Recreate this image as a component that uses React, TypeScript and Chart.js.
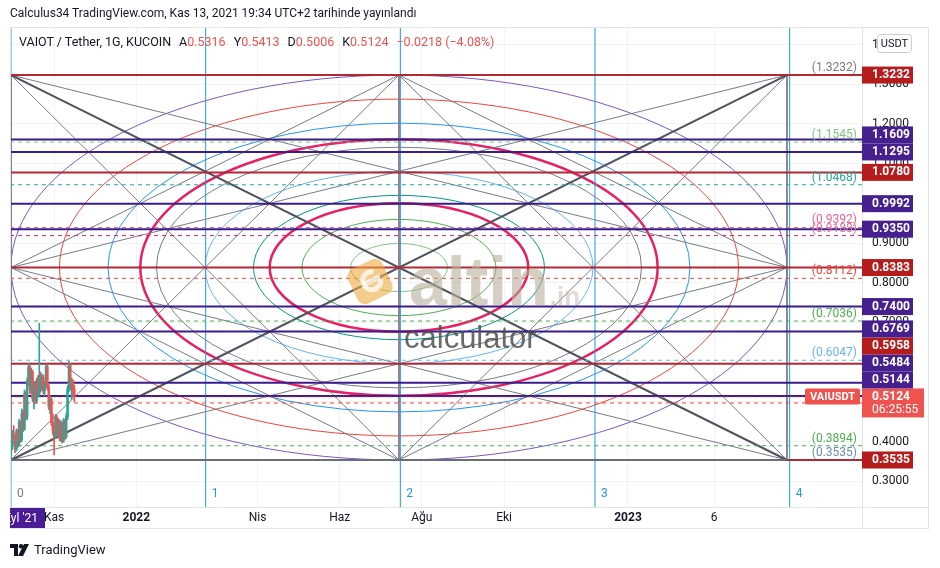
import React, { useEffect, useRef } from "react";
import { Chart, registerables } from "chart.js";

Chart.register(...registerables);

const FONT = "Roboto, 'Noto Sans', sans-serif";

// ---------------- DATA ----------------
const candleDays = [0, 1, 2, 3, 4, 5, 6, 7, 8, 9, 10, 11, 12, 13, 14, 15, 16, 17, 18, 19, 20, 21, 22, 23, 24, 25, 26, 27, 28, 29, 30, 31, 32, 33, 34, 35, 36, 37, 38, 39, 40, 41, 42, 43, 44, 45, 46, 47];
const opens = [0.372, 0.388, 0.420, 0.402, 0.380, 0.425, 0.392, 0.448, 0.405, 0.470, 0.432, 0.520, 0.462, 0.552, 0.588, 0.528, 0.575, 0.508, 0.540, 0.502, 0.552, 0.520, 0.565, 0.532, 0.562, 0.528, 0.540, 0.588, 0.538, 0.488, 0.505, 0.448, 0.428, 0.412, 0.460, 0.420, 0.450, 0.408, 0.445, 0.402, 0.452, 0.412, 0.462, 0.532, 0.592, 0.538, 0.550, 0.5316];
const highs = [0.395, 0.428, 0.440, 0.412, 0.432, 0.430, 0.456, 0.452, 0.482, 0.478, 0.530, 0.526, 0.560, 0.598, 0.594, 0.585, 0.580, 0.548, 0.552, 0.560, 0.566, 0.698, 0.575, 0.570, 0.568, 0.545, 0.596, 0.592, 0.545, 0.515, 0.510, 0.470, 0.440, 0.468, 0.466, 0.458, 0.455, 0.452, 0.448, 0.458, 0.456, 0.470, 0.540, 0.602, 0.596, 0.560, 0.556, 0.5413];
const lows = [0.3535, 0.380, 0.395, 0.372, 0.376, 0.385, 0.388, 0.398, 0.400, 0.425, 0.428, 0.455, 0.455, 0.540, 0.520, 0.522, 0.500, 0.482, 0.495, 0.498, 0.512, 0.515, 0.525, 0.528, 0.520, 0.515, 0.535, 0.530, 0.480, 0.470, 0.440, 0.418, 0.366, 0.408, 0.412, 0.415, 0.402, 0.400, 0.396, 0.398, 0.405, 0.408, 0.455, 0.525, 0.530, 0.506, 0.515, 0.5006];
const closes = [0.388, 0.420, 0.402, 0.380, 0.425, 0.392, 0.448, 0.405, 0.470, 0.432, 0.520, 0.462, 0.552, 0.588, 0.528, 0.575, 0.508, 0.540, 0.502, 0.552, 0.520, 0.565, 0.532, 0.562, 0.528, 0.540, 0.588, 0.538, 0.488, 0.505, 0.448, 0.428, 0.412, 0.460, 0.420, 0.450, 0.408, 0.445, 0.402, 0.452, 0.412, 0.462, 0.532, 0.592, 0.538, 0.550, 0.5316, 0.5124];

const lastPrice = 0.5124;
const countdown = "06:25:55";
const symbolTag = "VAIUSDT";

// Gann box
const boxStartDay = 0;
const boxEndDay = 576;
const boxLow = 0.3535;
const boxHigh = 1.3232;

// Horizontal levels
const redLevels = [1.3232, 1.078, 0.8383, 0.5958, 0.3535];
const purpleLevels = [1.1609, 1.1295, 0.9992, 0.935, 0.74, 0.6769, 0.5484, 0.5144];
const dashedLevels = [1.1545, 1.0468, 0.9392, 0.9188, 0.8112, 0.7036, 0.6047, 0.4971, 0.3894];
const dashedColors = ["#81c784", "#26a69a", "#f06292", "#e91e63", "#f44336", "#4caf50", "#64b5f6", "#f44336", "#4caf50"];
const bracketValues = [1.3232, 1.1545, 1.0468, 0.9392, 0.9188, 0.8112, 0.7036, 0.6047, 0.3894, 0.3535];
const bracketColors = ["#787b86", "#81c784", "#26a69a", "#f06292", "#e57399", "#f44336", "#4caf50", "#64b5f6", "#4caf50", "#6a8caf"];

// Ellipses (fractions of the box)
const ellipseFractions = [1, 0.875, 0.75, 2 / 3, 0.625, 0.5, 0.375, 1 / 3, 0.25, 0.125];
const ellipseColors = ["#7e57c2", "#f44336", "#2196f3", "#e91e63", "#787b86", "#64b5f6", "#009688", "#e91e63", "#4caf50", "#81c784"];
const ellipseWidths = [1, 1, 1, 2.5, 1, 1, 1, 2.5, 1, 1];

// Fan segments between box anchors
const fanSegments: [string, string][] = [
  ["TL", "BM"], ["TL", "RM"], ["TR", "BM"], ["TR", "LM"],
  ["BL", "TM"], ["BL", "RM"], ["BR", "TM"], ["BR", "LM"],
  ["LM", "TM"], ["TM", "RM"], ["RM", "BM"], ["BM", "LM"],
  ["TM", "BM"], ["TL", "BL"], ["TR", "BR"],
];
const thickSegments: [string, string][] = [["TL", "BR"], ["BL", "TR"]];

// Time zones
const zoneDays = [0, 144.5, 289, 433.5, 578];
const zoneLabels = ["0", "1", "2", "3", "4"];

// Axis ticks
const timeTickDays = [32, 93, 183, 244, 305, 366, 458, 522];
const timeTickLabels = ["Kas", "2022", "Nis", "Haz", "Ağu", "Eki", "2023", "6"];
const boldTimeLabels = ["2022", "2023"];
const priceTicks = [0.3, 0.4, 0.5, 0.6, 0.7, 0.8, 0.9, 1.0, 1.1, 1.2, 1.3, 1.4];

const X_MIN = -0.742;
const X_MAX = 631.7;
const Y_MIN = 0.2351;
const Y_MAX = 1.4417;

// --------------- COLORS ---------------
const RED_LINE = "#b22833";
const PURPLE_LINE = "#3a1c8c";
const RED_BOX = "#b71c1c";
const PURPLE_BOX = "#46208f";
const UP = "#26a69a";
const DOWN = "#ef5350";

const anchors: Record<string, [number, number]> = {
  TL: [boxStartDay, boxHigh],
  TM: [(boxStartDay + boxEndDay) / 2, boxHigh],
  TR: [boxEndDay, boxHigh],
  LM: [boxStartDay, (boxLow + boxHigh) / 2],
  RM: [boxEndDay, (boxLow + boxHigh) / 2],
  BL: [boxStartDay, boxLow],
  BM: [(boxStartDay + boxEndDay) / 2, boxLow],
  BR: [boxEndDay, boxLow],
};

function seg(p1: [number, number], p2: [number, number], color: string, width: number, dash: number[], order: number) {
  return {
    type: "line",
    data: [{ x: p1[0], y: p1[1] }, { x: p2[0], y: p2[1] }],
    borderColor: color,
    borderWidth: width,
    borderDash: dash,
    pointRadius: 0,
    fill: false,
    tension: 0,
    order,
  };
}

function drawWatermark(ctx: CanvasRenderingContext2D, a: any) {
  const cx = (a.left + a.right) / 2;
  const cy = (a.top + a.bottom) / 2;
  ctx.save();
  ctx.save();
  ctx.translate(cx - 66, cy + 14);
  ctx.rotate(-0.45);
  ctx.fillStyle = "rgba(236,170,64,0.6)";
  ctx.beginPath();
  (ctx as any).roundRect(-19, -19, 38, 38, 8);
  ctx.fill();
  ctx.strokeStyle = "rgba(255,255,255,0.75)";
  ctx.lineWidth = 5;
  ctx.beginPath();
  ctx.arc(2, 0, 9, 0.3, Math.PI * 1.7);
  ctx.stroke();
  ctx.beginPath();
  ctx.moveTo(-7, 0);
  ctx.lineTo(11, 0);
  ctx.stroke();
  ctx.restore();
  ctx.fillStyle = "rgba(185,175,155,0.6)";
  ctx.font = `bold 68px 'Liberation Sans', Arial, sans-serif`;
  ctx.textAlign = "left";
  ctx.textBaseline = "alphabetic";
  ctx.fillText("altin", cx - 27, cy + 37);
  const w = ctx.measureText("altin").width;
  ctx.font = `bold 26px 'Liberation Sans', Arial, sans-serif`;
  ctx.fillStyle = "rgba(185,175,155,0.45)";
  ctx.fillText(".in", cx - 27 + w + 1, cy + 37);
  ctx.fillStyle = "rgba(80,80,80,0.85)";
  ctx.font = `31px 'Liberation Sans', Arial, sans-serif`;
  ctx.fillText("calculator", cx - 32, cy + 80);
  ctx.restore();
}

const overlayPlugin = {
  id: "overlayPlugin",
  beforeDatasetsDraw(chart: any) {
    const { ctx, chartArea: a, scales } = chart;
    const xs = scales.x, ys = scales.y;
    const cx = xs.getPixelForValue((boxStartDay + boxEndDay) / 2);
    const cy = ys.getPixelForValue((boxLow + boxHigh) / 2);
    const rx = xs.getPixelForValue(boxEndDay) - cx;
    const ry = cy - ys.getPixelForValue(boxHigh);
    ctx.save();
    ctx.beginPath();
    ctx.rect(a.left, a.top, a.right - a.left, a.bottom - a.top);
    ctx.clip();
    ellipseFractions.forEach((f, i) => {
      ctx.beginPath();
      ctx.ellipse(cx, cy, rx * f, ry * f, 0, 0, Math.PI * 2);
      ctx.strokeStyle = ellipseColors[i];
      ctx.lineWidth = ellipseWidths[i];
      ctx.stroke();
    });
    ctx.restore();
  },
  afterDatasetsDraw(chart: any) {
    const { ctx, chartArea: a, scales } = chart;
    const xs = scales.x, ys = scales.y;
    ctx.save();
    ctx.beginPath();
    ctx.rect(a.left, a.top, a.right - a.left, a.bottom - a.top);
    ctx.clip();
    drawWatermark(ctx, a);
    ctx.font = `12px ${FONT}`;
    ctx.textAlign = "right";
    ctx.textBaseline = "middle";
    bracketValues.forEach((v, i) => {
      ctx.fillStyle = bracketColors[i];
      ctx.fillText(`(${v.toFixed(4)})`, a.right - 5, ys.getPixelForValue(v) - 7);
    });
    ctx.textAlign = "left";
    zoneDays.forEach((d, i) => {
      ctx.fillStyle = i === 0 ? "#787b86" : "#2196f3";
      ctx.fillText(zoneLabels[i], xs.getPixelForValue(d) + 6, a.bottom - 13);
    });
    ctx.restore();
  },
  afterDraw(chart: any) {
    const { ctx, chartArea: a, scales } = chart;
    const ys = scales.y;
    ctx.save();
    ctx.strokeStyle = "#e0e3eb";
    ctx.lineWidth = 1;
    const right = a.right + 66;
    const bottom = a.bottom + 21;
    ctx.strokeRect(a.left + 0.5, a.top - 0.5, right - a.left, bottom - a.top + 1);
    ctx.beginPath();
    ctx.moveTo(a.right + 0.5, a.top);
    ctx.lineTo(a.right + 0.5, bottom);
    ctx.moveTo(a.left, a.bottom + 0.5);
    ctx.lineTo(right, a.bottom + 0.5);
    ctx.stroke();

    type B = { v: number; color: string; lines: string[]; w: number; h: number; top?: number };
    const boxes: B[] = [
      ...redLevels.map((v) => ({ v, color: RED_BOX, lines: [v.toFixed(4)], w: 51, h: 17 })),
      ...purpleLevels.map((v) => ({ v, color: PURPLE_BOX, lines: [v.toFixed(4)], w: 51, h: 17 })),
      { v: lastPrice, color: "#ef5350", lines: [lastPrice.toFixed(4), countdown], w: 62, h: 29 },
    ];
    boxes.sort((p, q) => p.v - q.v);
    let prevTop = Infinity;
    boxes.forEach((b) => {
      const natural = ys.getPixelForValue(b.v) - 8.5;
      b.top = Math.min(natural, prevTop - b.h);
      prevTop = b.top;
    });
    boxes.forEach((b) => {
      const t = b.top as number;
      ctx.fillStyle = b.color;
      ctx.fillRect(a.right, t, b.w, b.h);
      ctx.fillStyle = "#ffffff";
      ctx.textAlign = "left";
      ctx.textBaseline = "middle";
      ctx.font = `bold 12px ${FONT}`;
      ctx.fillText(b.lines[0], a.right + 10, t + 8.5);
      if (b.lines[1]) {
        ctx.font = `12px ${FONT}`;
        ctx.fillText(b.lines[1], a.right + 10, t + 21.5);
      }
    });
    const lp = boxes.find((b) => b.v === lastPrice) as B;
    ctx.fillStyle = "#ef5350";
    ctx.beginPath();
    (ctx as any).roundRect(a.right - 57, (lp.top as number), 55, 16, 2);
    ctx.fill();
    ctx.fillStyle = "#ffffff";
    ctx.font = `bold 11px ${FONT}`;
    ctx.textAlign = "center";
    ctx.fillText(symbolTag, a.right - 29.5, (lp.top as number) + 8.5);

    ctx.fillStyle = "#ffffff";
    ctx.strokeStyle = "#c9ccd4";
    ctx.beginPath();
    (ctx as any).roundRect(a.right + 15.5, a.top + 6.5, 34, 18, 3);
    ctx.fill();
    ctx.stroke();
    ctx.fillStyle = "#131722";
    ctx.font = `11px ${FONT}`;
    ctx.fillText("USDT", a.right + 32.5, a.top + 16);

    ctx.fillStyle = "#4a1d96";
    ctx.fillRect(a.left, a.bottom + 1, 35, 20);
    ctx.save();
    ctx.beginPath();
    ctx.rect(a.left, a.bottom + 1, 35, 20);
    ctx.clip();
    ctx.fillStyle = "#ffffff";
    ctx.font = `12px ${FONT}`;
    ctx.textAlign = "right";
    ctx.fillText("Eyl '21", a.left + 28, a.bottom + 11.5);
    ctx.restore();
    ctx.restore();
  },
};

export default function App() {
  const ref = useRef<HTMLCanvasElement | null>(null);

  useEffect(() => {
    if (!ref.current) return;
    const wicks = candleDays.map((d, i) => ({ x: d, y: [lows[i], highs[i]] }));
    const bodies = candleDays.map((d, i) => ({
      x: d,
      y: [Math.min(opens[i], closes[i]), Math.max(opens[i], closes[i]) + 0.0005],
    }));
    const cColors = candleDays.map((_, i) => (closes[i] >= opens[i] ? UP : DOWN));

    const datasets: any[] = [];
    datasets.push({ type: "bar", data: bodies, backgroundColor: cColors, barThickness: 1.8, grouped: false, order: 0 });
    datasets.push({ type: "bar", data: wicks, backgroundColor: cColors, barThickness: 1, grouped: false, order: 0 });
    datasets.push(seg([X_MIN, lastPrice], [X_MAX, lastPrice], "#ef5350", 1, [1, 2], 1));
    redLevels.forEach((v) => datasets.push(seg([X_MIN, v], [X_MAX, v], RED_LINE, 2, [], 2)));
    purpleLevels.forEach((v) => datasets.push(seg([X_MIN, v], [X_MAX, v], PURPLE_LINE, 2, [], 2)));
    datasets.push(seg(anchors.BL, anchors.BR, "#6b6e78", 2, [], 1.5));
    dashedLevels.forEach((v, i) => datasets.push(seg([X_MIN, v], [X_MAX, v], dashedColors[i], 1, [4, 4], 3)));
    thickSegments.forEach(([p, q]) => datasets.push(seg(anchors[p], anchors[q], "#50535e", 2, [], 4)));
    fanSegments.forEach(([p, q]) => datasets.push(seg(anchors[p], anchors[q], "#787b86", 1, [], 5)));
    zoneDays.forEach((d) => datasets.push(seg([d, Y_MIN], [d, Y_MAX], "#2196f3", 1, [], 6)));

    const chart = new Chart(ref.current, {
      type: "bar",
      data: { datasets },
      options: {
        animation: false,
        responsive: false,
        devicePixelRatio: 1,
        layout: { padding: { left: 10, top: 28, right: 12, bottom: 40 } },
        plugins: { legend: { display: false }, tooltip: { enabled: false } },
        scales: {
          x: {
            type: "linear",
            min: X_MIN,
            max: X_MAX,
            offset: false,
            grid: { offset: false, color: "rgba(42,46,57,0.06)", drawTicks: false },
            border: { display: false },
            afterBuildTicks: (s: any) => { s.ticks = timeTickDays.map((v) => ({ value: v })); },
            afterFit: (s: any) => { s.height = 21; },
            ticks: {
              autoSkip: false,
              maxRotation: 0,
              minRotation: 0,
              padding: 4,
              color: "#131722",
              font: (c: any) => {
                const lbl = timeTickLabels[timeTickDays.indexOf(c.tick ? c.tick.value : -1)];
                return { family: FONT, size: 12, weight: boldTimeLabels.includes(lbl) ? "bold" : "normal" };
              },
              callback: (v: any) => timeTickLabels[timeTickDays.indexOf(Number(v))] ?? "",
            },
          },
          y: {
            type: "linear",
            position: "right",
            min: Y_MIN,
            max: Y_MAX,
            grid: { color: "rgba(42,46,57,0.06)", drawTicks: false },
            border: { display: false },
            afterBuildTicks: (s: any) => { s.ticks = priceTicks.map((v) => ({ value: v })); },
            afterFit: (s: any) => { s.width = 66; },
            ticks: {
              padding: 10,
              color: "#131722",
              font: { family: FONT, size: 12 },
              callback: (v: any) => Number(v).toFixed(4),
            },
          },
        },
      } as any,
      plugins: [overlayPlugin as any],
    });
    return () => chart.destroy();
  }, []);

  const red = { color: "#ef5350" };
  const gap = { marginLeft: 8 };
  return (
    <div style={{ position: "fixed", left: 0, top: 0, width: 940, height: 568, background: "#ffffff", overflow: "hidden" }}>
      <canvas ref={ref} width={940} height={568} style={{ position: "absolute", left: 0, top: 0, width: 940, height: 568 }} />
      <div style={{ position: "absolute", left: 10, top: 6, font: `12px ${FONT}`, color: "#131722", whiteSpace: "nowrap" }}>
        Calculus34 TradingView.com, Kas 13, 2021 19:34 UTC+2 tarihinde yayınlandı
      </div>
      <div style={{ position: "absolute", left: 19, top: 34, font: `12.5px ${FONT}`, color: "#131722", whiteSpace: "nowrap" }}>
        <span>VAIOT / Tether, 1G, KUCOIN</span>
        <span style={gap}>A</span><span style={red}>0.5316</span>
        <span style={gap}>Y</span><span style={red}>0.5413</span>
        <span style={gap}>D</span><span style={red}>0.5006</span>
        <span style={gap}>K</span><span style={red}>0.5124</span>
        <span style={{ ...gap, ...red }}>−0.0218 (−4.08%)</span>
      </div>
      <div style={{ position: "absolute", left: 10, top: 542, display: "flex", alignItems: "center", font: `13px ${FONT}`, color: "#131722" }}>
        <svg width="20" height="12" viewBox="0 0 20 12" style={{ marginRight: 4 }}>
          <path d="M0 0 H8 V12 H4 V4 H0 Z" fill="#131722" />
          <circle cx="11" cy="2.2" r="2.2" fill="#131722" />
          <path d="M14 0 H19 L13 12 H8 Z" fill="#131722" />
        </svg>
        <span>TradingView</span>
      </div>
    </div>
  );
}
